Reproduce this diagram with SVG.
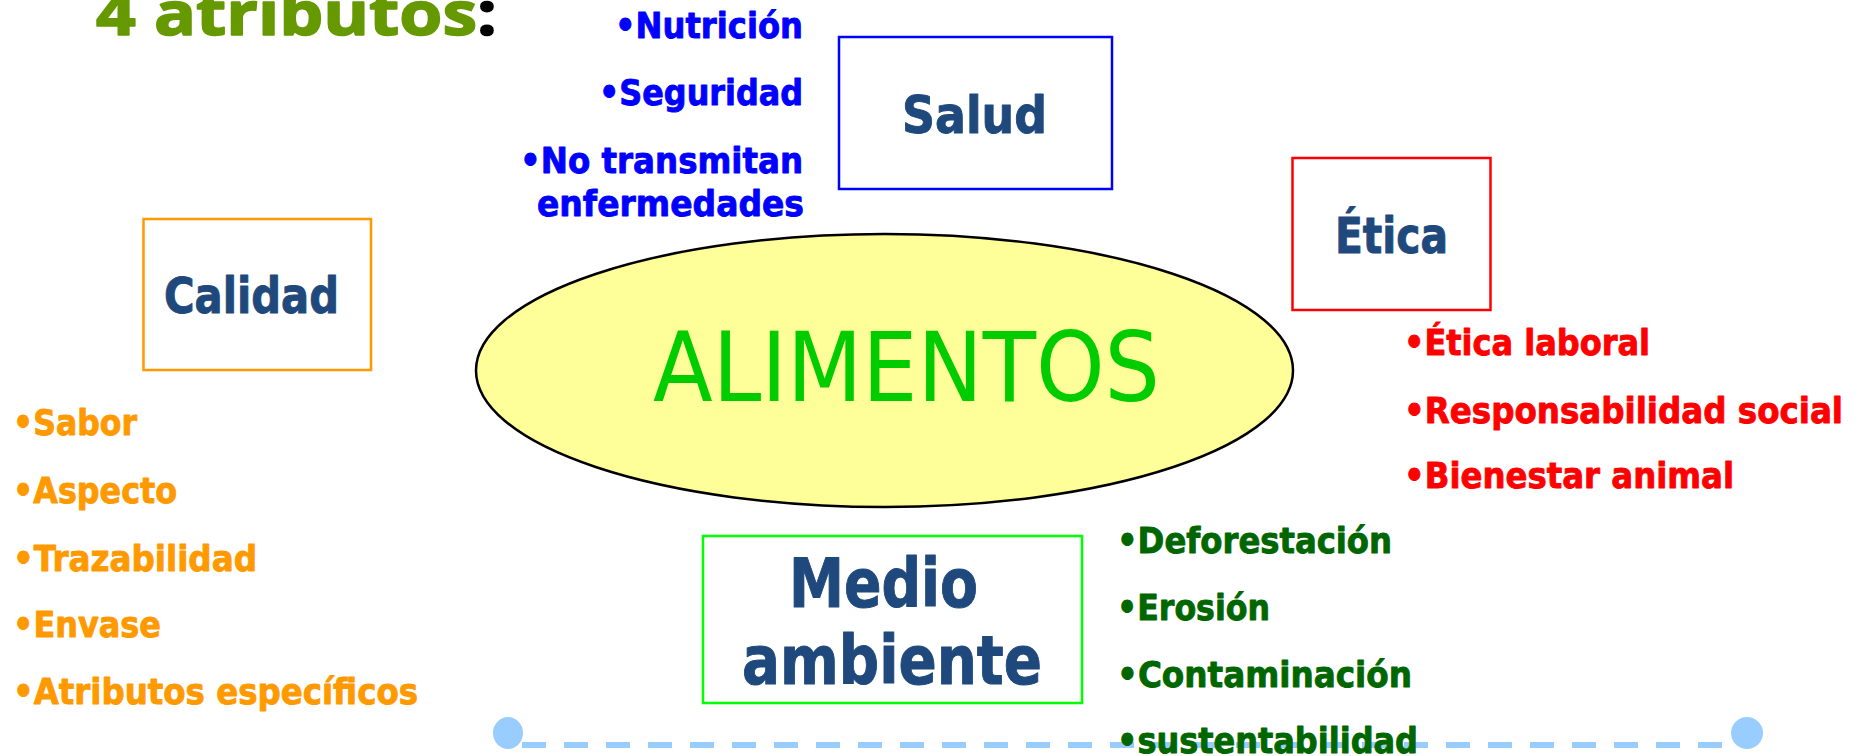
<svg xmlns="http://www.w3.org/2000/svg" width="1866" height="756" viewBox="0 0 1866 756">
<style>
text{font-family:"DejaVu Sans","Liberation Sans",sans-serif;font-weight:bold;stroke-linejoin:round}
.b{font-size:36px;stroke-width:0.9}
.blue{fill:#0000FF;stroke:#0000FF}
.org{fill:#FF9900;stroke:#FF9900}
.red{fill:#FF0000;stroke:#FF0000}
.grn{fill:#006600;stroke:#006600}
.lbl{fill:#1F497D;stroke:#1F497D;stroke-width:1}
.box{fill:#FFFFFF;stroke-width:2.5}
</style>
<rect width="1866" height="756" fill="#FFFFFF"/>
<g id="decor">
<line x1="522" y1="745" x2="1722" y2="745" stroke="#99CCFF" stroke-width="6" stroke-dasharray="24 18"/>
<ellipse cx="508" cy="733" rx="15" ry="16" fill="#99CCFF"/>
<ellipse cx="1747" cy="733" rx="16" ry="16" fill="#99CCFF"/>
</g>
<g id="title">
<text x="96" y="35" font-size="60" style="font-family:'Open Sans','Noto Sans',sans-serif" fill="#669900" stroke="#669900" stroke-width="1.6" textLength="401" lengthAdjust="spacingAndGlyphs">4 atributos<tspan fill="#000000" stroke="#000000">:</tspan></text>
</g>
<g id="alimentos">
<ellipse cx="884.5" cy="370.5" rx="408.5" ry="136.5" fill="#FFFF99" stroke="#000000" stroke-width="2.5"/>
<text x="653" y="401" font-size="96" style="font-weight:normal" fill="#00CC00" textLength="507" lengthAdjust="spacingAndGlyphs">ALIMENTOS</text>
</g>
<g id="salud">
<rect class="box" x="839" y="37" width="273" height="152" stroke="#0000FF"/>
<text class="lbl" x="902" y="133" font-size="52" textLength="145" lengthAdjust="spacingAndGlyphs">Salud</text>
<text class="b blue" x="615" y="38" textLength="188" lengthAdjust="spacingAndGlyphs">•Nutrición</text>
<text class="b blue" x="599" y="105" textLength="204" lengthAdjust="spacingAndGlyphs">•Seguridad</text>
<text class="b blue" x="520" y="173" textLength="283" lengthAdjust="spacingAndGlyphs">•No transmitan</text>
<text class="b blue" x="537" y="216" textLength="267" lengthAdjust="spacingAndGlyphs">enfermedades</text>
</g>
<g id="calidad">
<rect class="box" x="143.5" y="219" width="227.5" height="151" stroke="#FF9900"/>
<text class="lbl" x="164" y="313" font-size="50" textLength="175" lengthAdjust="spacingAndGlyphs">Calidad</text>
<text class="b org" x="13" y="435" textLength="124" lengthAdjust="spacingAndGlyphs">•Sabor</text>
<text class="b org" x="13" y="503" textLength="164" lengthAdjust="spacingAndGlyphs">•Aspecto</text>
<text class="b org" x="13" y="571" textLength="244" lengthAdjust="spacingAndGlyphs">•Trazabilidad</text>
<text class="b org" x="13" y="637" textLength="148" lengthAdjust="spacingAndGlyphs">•Envase</text>
<text class="b org" x="13" y="704" textLength="405" lengthAdjust="spacingAndGlyphs">•Atributos específicos</text>
</g>
<g id="etica">
<rect class="box" x="1292.5" y="158" width="198" height="152" stroke="#FF0000"/>
<text class="lbl" x="1335" y="253" font-size="50" textLength="113" lengthAdjust="spacingAndGlyphs">Ética</text>
<text class="b red" x="1404" y="355" textLength="246" lengthAdjust="spacingAndGlyphs">•Ética laboral</text>
<text class="b red" x="1404" y="423" textLength="439" lengthAdjust="spacingAndGlyphs">•Responsabilidad social</text>
<text class="b red" x="1404" y="488" textLength="330" lengthAdjust="spacingAndGlyphs">•Bienestar animal</text>
</g>
<g id="medio-ambiente">
<rect class="box" x="703" y="536" width="379" height="167" stroke="#00FF00"/>
<text class="lbl" x="789" y="607" font-size="67" textLength="189" lengthAdjust="spacingAndGlyphs">Medio</text>
<text class="lbl" x="742" y="684" font-size="67" textLength="300" lengthAdjust="spacingAndGlyphs">ambiente</text>
<text class="b grn" x="1117" y="553" textLength="275" lengthAdjust="spacingAndGlyphs">•Deforestación</text>
<text class="b grn" x="1117" y="620" textLength="153" lengthAdjust="spacingAndGlyphs">•Erosión</text>
<text class="b grn" x="1117" y="687" textLength="295" lengthAdjust="spacingAndGlyphs">•Contaminación</text>
<text class="b grn" x="1117" y="753" textLength="301" lengthAdjust="spacingAndGlyphs">•sustentabilidad</text>
</g>
</svg>
